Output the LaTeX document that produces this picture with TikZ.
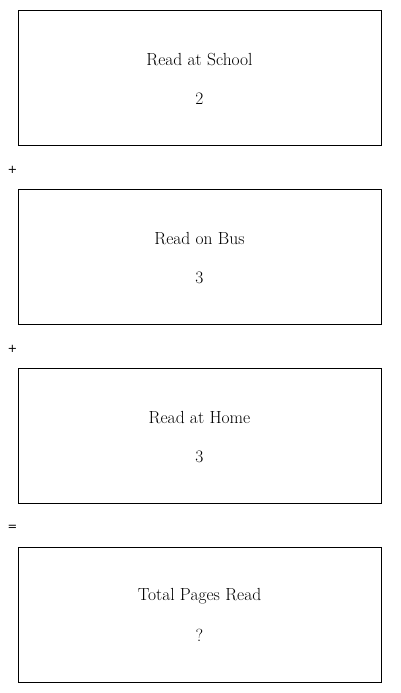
\documentclass[tikz,border=0pt]{standalone}
\usepackage{fontspec}
\newfontfamily\symfont{DejaVu Sans}
\begin{document}
\begin{tikzpicture}[x=1pt,y=-1pt,
  card/.style={draw=black,line width=0.8pt,minimum width=363pt,minimum height=135pt,anchor=north west,inner sep=0pt},
  lbl/.style={font=\fontsize{17.5}{20}\selectfont,anchor=center},
  op/.style={font=\symfont\fontsize{11.5}{13}\selectfont,anchor=center}]
\useasboundingbox (0,0) rectangle (400,693);
\node[card] (b1) at (18,10) {};
\node[card] (b2) at (18,189) {};
\node[card] (b3) at (18,368) {};
\node[card] (b4) at (18,547) {};
\node[lbl] (t1) at (199.5,59.5) {Read at School};
\node[lbl] (v1) at (199.5,98.5) {2};
\node[lbl] (t2) at (199.5,238.5) {Read on Bus};
\node[lbl] (v2) at (199.5,277.5) {3};
\node[lbl] (t3) at (199.5,417.5) {Read at Home};
\node[lbl] (v3) at (199.5,456.5) {3};
\node[lbl] (t4) at (199.5,596.5) {Total Pages Read};
\node[lbl] (v4) at (199.5,635.5) {?};
\node[op] (p1) at (12.5,170) {+};
\node[op] (p2) at (12.5,349) {+};
\node[op] (e1) at (12.5,528) {=};
\end{tikzpicture}
\end{document}
